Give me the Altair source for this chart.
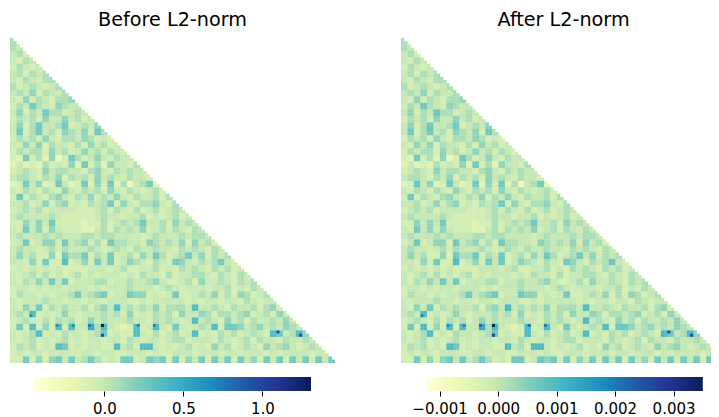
import altair as alt
import pandas as pd

alt.data_transformers.disable_max_rows()

# Colour steps, top to bottom, one character per 2x2 block of cells.
PATTERN_ROWS = [
    "4", "43", "342", "3243", "24323", "342434", "3243244", "42343234", "343524334",
    "3252432445",
    "2436432543 3",
    "3524364423 43",
    "2434253353 423",
    "3524633462 3435",
    "3624634254 35264",
    "2434253244 354232",
    "3253524332 4253423",
    "2434425342 35342432",
    "2162415026 423532433",
    "1312142325 1624153324",
    "2343253443 3245324343 3",
    "3443243524 3425343243 32",
    "1263512631 2615261403 461",
    "3243243253 2434253243 2342",
    "2624324532 4352435324 33424",
    "3342352452 3243462532 445324",
    "2343423333 2223424324 2342343",
    "3433334322 2223433233 42323423",
    "2253536222 2122423434 633425343",
    "3263525322 2113424343 5234243243",
    "3433343433 3443443333 2343334344 3",
    "2362355263 4524264433 2543435253 42",
    "3433234243 3343234324 3343324343 243",
    "3534225164 4624362342 5364234635 2434",
    "3325262272 3526362354 3243265324 34632",
    "2323232322 2233323422 3342324343 243423",
    "3234242323 4232333232 4332423344 3243243",
    "3243536362 3334423343 3453223425 33432434",
    "2332323323 3323233343 3323432333 233423243",
    "2433232334 6345623365 5232362234 3524254234",
    "3233343323 3233233322 3233333232 3323324323 3",
    "3253624343 3424537343 4352444373 3432433424 52",
    "3437232353 2333434252 3243425335 4244345234 253",
    "2343242434 2353433343 3243432373 4325342433 4353",
    "2627252727 3384732127 2373263234 3726653453 43543",
    "3234723243 3234623227 3242342372 3243423432 763475",
    "3234232342 3233233243 2332344233 3243234243 3243343",
    "2434232762 3233227342 7732323423 2534234325 34532343",
    "2323323332 2332332233 3232233323 3323323332 323333233",
    "2262525636 3464232662 3656262536 2636263526 3626362636",
]
LEFT_LEVELS = [-0.25, -0.16, -0.08, -0.01, 0.07, 0.16, 0.26, 0.38, 0.52, 0.72]
RIGHT_LEVELS = [-0.00068, -0.00046, -0.00024, -0.00004, 0.00018, 0.00042, 0.0007, 0.00104, 0.0014, 0.002]

# Single strongest cells
PEAK_ROWS = [88, 91, 90, 91, 88, 88, 88, 88, 88, 85]
PEAK_COLS = [28, 28, 82, 89, 24, 19, 14, 39, 44, 6]
LEFT_PEAKS = [1.30, 0.95, 0.95, 0.95, 0.75, 0.65, 0.65, 0.7, 0.7, 0.65]
RIGHT_PEAKS = [0.0035, 0.0027, 0.0027, 0.0027, 0.0022, 0.0018, 0.0018, 0.0020, 0.0019, 0.0019]

YLGNBU = ["#ffffd9", "#edf8b1", "#c7e9b4", "#7fcdbb", "#41b6c4", "#1d91c0", "#225ea8", "#253494", "#081d58"]

LEFT_RANGE = (-0.448, 1.307)
RIGHT_RANGE = (-0.00124, 0.0035)
LEFT_TICKS = [0.0, 0.5, 1.0]
RIGHT_TICKS = [-0.001, 0.0, 0.001, 0.002, 0.003]
N = 100
FONT = "DejaVu Sans"


def cells(levels, peaks):
    rows = [r.replace(" ", "") for r in PATTERN_ROWS]
    for k, r in enumerate(rows):
        assert len(r) == k + 1, (k, len(r))
    over = {(r, c): v for r, c, v in zip(PEAK_ROWS, PEAK_COLS, peaks)}
    out = []
    for i in range(N):
        for j in range(i + 1):
            v = over.get((i, j), levels[int(rows[i // 2][j // 2])])
            out.append({"c": j, "c2": j + 1, "r": i, "r2": i + 1, "v": v})
    return pd.DataFrame(out)


def panel(title, levels, peaks, rng, ticks, fmt, width, xmax, dom, dx):
    a, b = rng
    stops = [a + (b - a) * k / 8 for k in range(9)]
    color = alt.Scale(domain=stops, range=YLGNBU, interpolate="rgb", clamp=True)
    xs = alt.Scale(domain=[0, xmax], nice=False, zero=False)
    ys = alt.Scale(domain=[0, N], reverse=True, nice=False, zero=False)
    heat = (
        alt.Chart(cells(levels, peaks), title=alt.TitleParams(
            text=title, font=FONT, fontSize=19.2, fontWeight="normal", color="#000000",
            anchor="middle", dx=dx, offset=8))
        .mark_rect(strokeWidth=0.25, clip=True)
        .encode(
            x=alt.X("c:Q", scale=xs, axis=None),
            x2="c2:Q",
            y=alt.Y("r:Q", scale=ys, axis=None),
            y2="r2:Q",
            color=alt.Color("v:Q", scale=color, legend=None),
            stroke=alt.Stroke("v:Q", scale=color, legend=None),
        )
        .properties(width=width, height=325)
    )
    grad = alt.Gradient(
        gradient="linear", x1=0, x2=1, y1=0, y2=0,
        stops=[alt.GradientStop(offset=k / 8, color=col) for k, col in enumerate(YLGNBU)],
    )
    bar = (
        alt.Chart(pd.DataFrame({"a": [a], "b": [b]}))
        .mark_rect(fill=grad)
        .encode(
            x=alt.X("a:Q", scale=alt.Scale(domain=dom, nice=False, zero=False), axis=alt.Axis(
                values=ticks, format=fmt, title=None, domain=False, grid=False, tickSize=5,
                tickWidth=1, tickColor="#000000", labelColor="#000000", labelFont=FONT,
                labelFontSize=15, labelPadding=5, labelFlush=False, labelOverlap=False)),
            x2="b:Q",
        )
        .properties(width=width, height=14)
    )
    return alt.vconcat(heat, bar, spacing=14).resolve_scale(color="independent", stroke="independent", x="independent")


left = panel("Before L2-norm", LEFT_LEVELS, LEFT_PEAKS, LEFT_RANGE, LEFT_TICKS, ".1f", 325, 100, [-0.598, 1.459], 0)
right = panel("After L2-norm", RIGHT_LEVELS, RIGHT_PEAKS, RIGHT_RANGE, RIGHT_TICKS, ".3f", 310, 95.4, [-0.00166, 0.00364], 7.5)

chart = (
    alt.hconcat(left, right, spacing=66)
    .resolve_scale(color="independent", stroke="independent", x="independent")
    .properties(
        autosize=alt.AutoSizeParams(type="none"),
        padding={"left": 2, "top": 30, "right": 701, "bottom": 379},
        background="#ffffff",
    )
    .configure_view(stroke=None)
)
chart.save("out.html", embed_options={"renderer": "svg", "actions": False})
